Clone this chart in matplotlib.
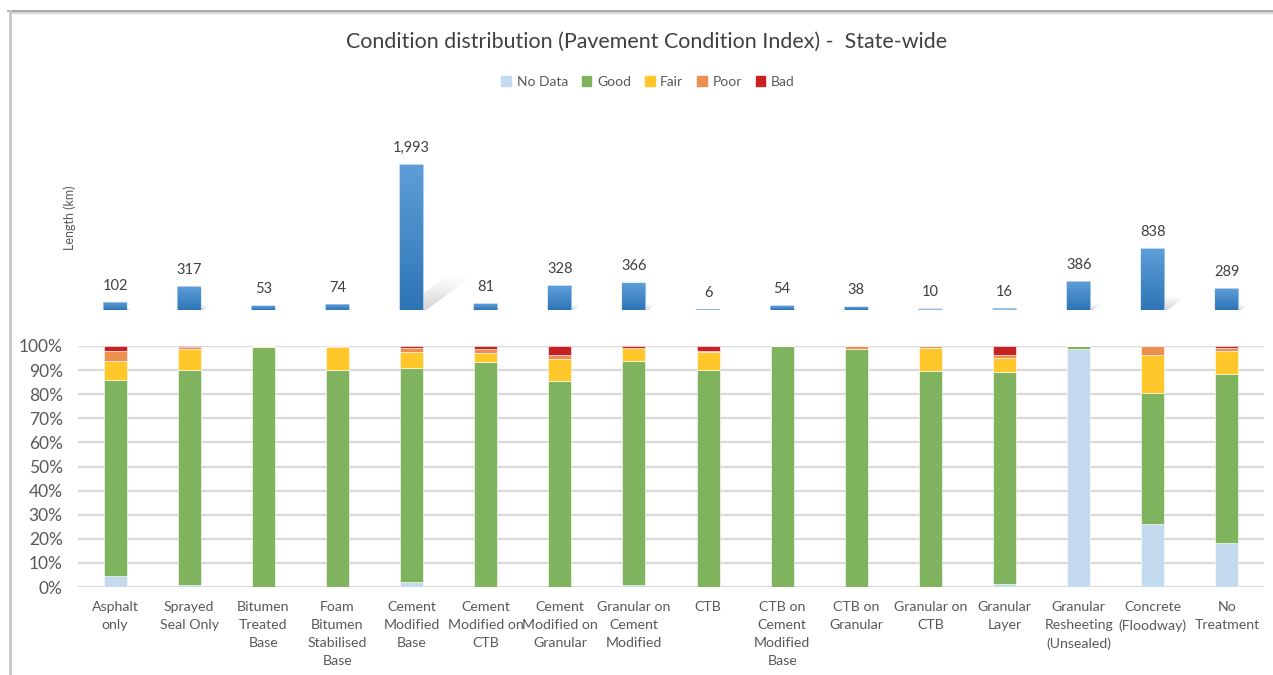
import numpy as np
import matplotlib
matplotlib.use("Agg")
import matplotlib.pyplot as plt
from matplotlib.patches import Polygon
from matplotlib.lines import Line2D

plt.rcParams['font.family'] = ['Lato', 'DejaVu Sans']

# ---- data -------------------------------------------------------------
categories = [
    "Asphalt\nonly", "Sprayed\nSeal Only", "Bitumen\nTreated\nBase",
    "Foam\nBitumen\nStabilised\nBase", "Cement\nModified\nBase",
    "Cement\nModified on\nCTB", "Cement\nModified on\nGranular",
    "Granular on\nCement\nModified", "CTB", "CTB on\nCement\nModified\nBase",
    "CTB on\nGranular", "Granular on\nCTB", "Granular\nLayer",
    "Granular\nResheeting\n(Unsealed)", "Concrete\n(Floodway)", "No\nTreatment",
]
length_km = [102, 317, 53, 74, 1993, 81, 328, 366, 6, 54, 38, 10, 16, 386, 838, 289]

# condition shares (%) per treatment
no_data = [4.4, 0.7, 0.0, 0.0, 1.9, 0.0, 0.0, 0.8, 0.0, 0.0, 0.0, 0.0, 1.4, 98.8, 26.2, 18.4]
good    = [81.5, 89.5, 99.4, 90.2, 89.1, 93.4, 85.5, 93.1, 90.2, 100.0, 98.8, 89.8, 87.7, 1.2, 54.5, 70.1]
fair    = [8.0, 8.7, 0.6, 9.2, 6.5, 3.6, 9.0, 5.4, 7.3, 0.0, 0.0, 9.5, 6.1, 0.0, 15.7, 9.6]
poor    = [4.2, 0.8, 0.0, 0.6, 1.5, 1.8, 1.8, 0.0, 0.3, 0.0, 1.2, 0.7, 1.1, 0.0, 3.6, 1.2]
bad     = [1.9, 0.3, 0.0, 0.0, 1.0, 1.2, 3.7, 0.7, 2.2, 0.0, 0.0, 0.0, 3.7, 0.0, 0.0, 0.7]

series_names = ["No Data", "Good", "Fair", "Poor", "Bad"]
series_vals = [no_data, good, fair, poor, bad]
series_cols = ["#C3DAEF", "#80B35E", "#FFC72A", "#EF8F4F", "#C82121"]

# ---- figure -----------------------------------------------------------
W, H = 1273, 675
fig = plt.figure(figsize=(W / 100, H / 100), dpi=100)
fig.patch.set_facecolor("white")

def frac_box(x0, y_top, x1, y_bot):
    return [x0 / W, 1 - y_bot / H, (x1 - x0) / W, (y_bot - y_top) / H]

x = np.arange(len(categories))
bar_w = 0.31
grid_col = "#D9D9D9"
text_col = "#595959"

# ---- lower panel: 100% stacked condition bars ---------------------------
ax = fig.add_axes(frac_box(78, 346, 1264, 587))
bottom = np.zeros(len(categories))
for name, vals, col in zip(series_names, series_vals, series_cols):
    vals = np.array(vals)
    ax.bar(x, vals, bar_w, bottom=bottom, color=col, edgecolor="#FFFFFF",
           linewidth=0.4, label=name, zorder=3)
    bottom += vals
ax.set_xlim(-0.5, len(categories) - 0.5)
ax.set_ylim(0, 100)
ax.set_yticks(np.arange(0, 101, 10))
ax.set_yticklabels([f"{v}%" for v in range(0, 101, 10)], fontsize=12.5, color=text_col)
ax.yaxis.grid(True, color=grid_col, linewidth=1.6, zorder=0)
ax.set_axisbelow(True)
for s in ax.spines.values():
    s.set_visible(False)
ax.tick_params(axis="both", length=0)
ax.tick_params(axis="y", pad=11)
ax.set_xticks(x)
ax.set_xticklabels(categories, fontsize=10.2, color=text_col, linespacing=1.62, va="top")
ax.tick_params(axis="x", pad=10)

# ---- upper panel: network length bars ------------------------------------
px_per_km = 145 / 1993
top_h_px = 200
axt = fig.add_axes(frac_box(78, 310 - top_h_px, 1264, 310))
axt.set_xlim(-0.5, len(categories) - 0.5)
ymax = top_h_px / px_per_km
axt.set_ylim(0, ymax)
axt.axis("off")

# data units per pixel, used for the shadow geometry and label offsets
ux = (len(categories)) / (1264 - 78)
uy = 1 / px_per_km

blue_grad = np.zeros((64, 1, 4))
c_top = np.array([0x5E, 0x9E, 0xD8]) / 255
c_bot = np.array([0x2E, 0x75, 0xB6]) / 255
for k in range(64):
    t = k / 63
    blue_grad[k, 0, :3] = c_bot * (1 - t) + c_top * t
    blue_grad[k, 0, 3] = 1.0

# soft shadow texture: fades along its length and across its width
sh = np.zeros((48, 48, 4))
along = np.linspace(0.38, 0.0, 48) ** 1.1
across = np.sin(np.linspace(0.15, np.pi - 0.15, 48)) ** 0.6
sh[..., :3] = 0.5
sh[..., 3] = along[:, None] * across[None, :]

for xi, v in zip(x, length_km):
    h_px = v * px_per_km
    dx = 0.33 * h_px * ux
    dy = 0.24 * h_px * uy
    l, r = xi - bar_w / 2, xi + bar_w / 2
    if h_px > 3:
        poly = Polygon([(l, 0), (r + 0.04, 0), (r + dx + 0.04, dy), (l + dx, dy)],
                       closed=True, facecolor="none", edgecolor="none")
        axt.add_patch(poly)
        im = axt.imshow(sh, extent=(l, r + dx + 0.04, 0, dy), origin="lower",
                        aspect="auto", zorder=1, interpolation="bilinear")
        im.set_clip_path(poly)
    rect = axt.bar(xi, v, bar_w, color=c_top, edgecolor="#8FBCE6",
                   linewidth=0.9, zorder=2)[0]
    rect.set_snap(False)
    if h_px > 2:
        gi = axt.imshow(blue_grad, extent=(l, r, 0, v), origin="lower",
                        aspect="auto", zorder=2.5, interpolation="bilinear")
        gi.set_clip_path(rect)
    axt.text(xi, v + 10 * uy, f"{v:,}", ha="center", va="bottom",
             fontsize=10.5, color="#404040", zorder=4)
axt.set_xlim(-0.5, len(categories) - 0.5)
axt.set_ylim(0, ymax)

fig.text(70 / W, 1 - 218 / H, "Length (km)", rotation=90, ha="center",
         va="center", fontsize=9, color=text_col)

# ---- title and legend -----------------------------------------------------
fig.text(647 / W, 1 - 42 / H, "Condition distribution (Pavement Condition Index) -  State-wide",
         ha="center", va="center", fontsize=15.4, color="#404040")
handles = [plt.Rectangle((0, 0), 1, 1, color=c) for c in series_cols]
fig.legend(handles, series_names, loc="center", bbox_to_anchor=(648 / W, 1 - 82 / H),
           ncol=5, frameon=False, fontsize=10, handlelength=0.7, handleheight=0.7,
           handletextpad=0.4, columnspacing=1.0, labelcolor=text_col)

# ---- chart frame ------------------------------------------------------------
fig.add_artist(Line2D([8 / W, 1], [1 - 10.5 / H, 1 - 10.5 / H], color="#9A9A9A", lw=1.2))
fig.add_artist(Line2D([10 / W, 1], [1 - 13 / H, 1 - 13 / H], color="#D6D6D6", lw=1.5))
fig.add_artist(Line2D([9.5 / W, 9.5 / W], [0, 1 - 11 / H], color="#C8C8C8", lw=2))

fig.savefig("out.png", dpi=100, facecolor="white")
